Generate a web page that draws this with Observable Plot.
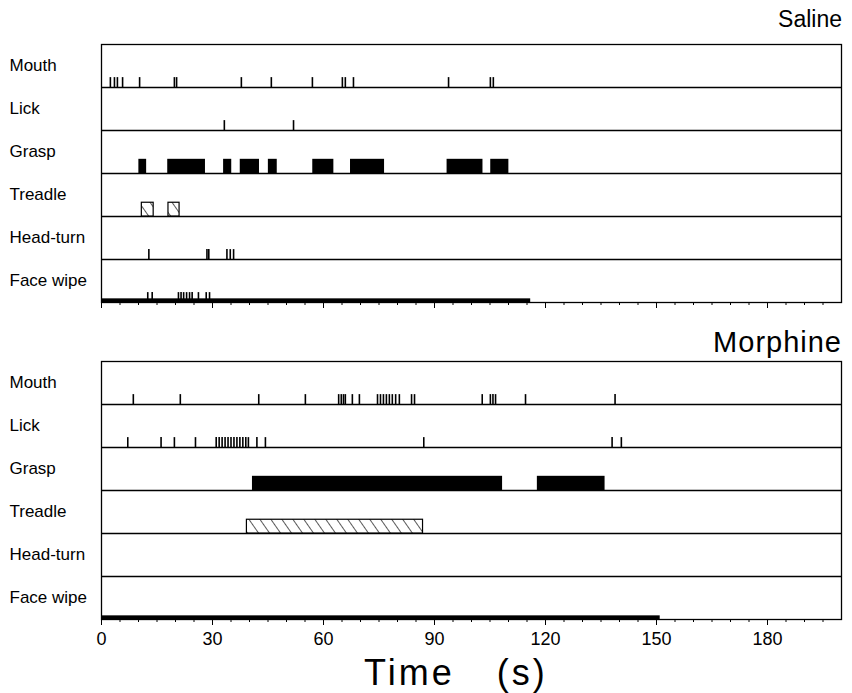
<!DOCTYPE html>
<html>
<head>
<meta charset="utf-8">
<script src="https://cdn.jsdelivr.net/npm/d3@7"></script>
<script src="https://cdn.jsdelivr.net/npm/@observablehq/plot@0.6"></script>
<style>
  body { margin: 0; background: #fff; font-family: "Liberation Sans", Arial, Helvetica, sans-serif; }
  #wrap { position: relative; width: 852px; height: 693px; overflow: hidden; }
  .title { position: absolute; right: 10px; color: #000; }
  .xlabel { position: absolute; left: 364px; font-size: 36px; line-height: 36px; white-space: pre; color: #000; letter-spacing: 3px; word-spacing: 8px; }
</style>
</head>
<body>
<svg width="0" height="0" style="position:absolute">
  <defs>
    <pattern id="hatch" patternUnits="userSpaceOnUse" width="9" height="9" patternTransform="rotate(-35)">
      <rect x="0" y="0" width="9" height="9" fill="white"/>
      <line x1="0" y1="-1" x2="0" y2="10" stroke="black" stroke-width="1.3"/>
    </pattern>
  </defs>
</svg>
<div id="wrap">
  <div class="title" style="top:8px;font-size:23px;line-height:23px">Saline</div>
  <div class="title" style="top:328px;font-size:29px;line-height:29px;letter-spacing:1px">Morphine</div>
  <div class="xlabel" style="top:655px">Time  (s)</div>
</div>
<script>
// ---------- data (seconds) ----------
const rows = ["Mouth", "Lick", "Grasp", "Treadle", "Head-turn", "Face wipe"];
const majorTicks = [0, 30, 60, 90, 120, 150, 180];

// Saline
const salineMouth = [2.4, 3.5, 4.3, 5.7, 10.3, 19.7, 20.3, 37.8, 45.9, 57.0, 65.1, 65.9, 68.1, 93.8, 105.1, 105.9];
const salineLick = [33.2, 51.9];
const salineGraspStart = [10.1, 17.9, 33.0, 37.5, 45.1, 57.1, 67.3, 93.4, 105.2];
const salineGraspEnd   = [12.2, 28.1, 35.2, 42.7, 47.5, 62.8, 76.5, 103.1, 110.1];
const salineTreadleStart = [10.9, 18.1];
const salineTreadleEnd   = [14.1, 21.1];
const salineHeadTurn = [12.8, 28.5, 29.0, 33.9, 34.8, 35.7];
const salineFaceWipe = [12.5, 13.7, 20.8, 21.5, 22.2, 23.0, 23.8, 24.5, 26.2, 28.3, 29.2];
const salineSession = 116;

// Morphine
const morphineMouth = [8.6, 21.3, 42.5, 55.1, 64.1, 64.8, 65.4, 65.9, 67.8, 69.7, 74.6, 75.4, 76.2, 77.0, 77.8, 78.6, 79.5, 80.5, 83.8, 84.6, 102.9, 105.1, 105.8, 106.5, 114.6, 138.8];
const morphineLick = [7.1, 16.1, 19.7, 25.4, 31.0, 31.8, 32.6, 33.4, 34.2, 35.0, 35.8, 36.6, 37.4, 38.2, 39.0, 39.7, 42.0, 44.3, 87.1, 138.0, 140.5];
const morphineGraspStart = [40.8, 117.8];
const morphineGraspEnd   = [108.4, 136.1];
const morphineTreadleStart = [39.3];
const morphineTreadleEnd   = [86.9];
const morphineHeadTurn = [];
const morphineFaceWipe = [];
const morphineSession = 151;

// ---------- build ----------
function panel(cfg, bottom) {
  const events = [
    ...cfg.mouth.map(t => ({row: 0, t})),
    ...cfg.lick.map(t => ({row: 1, t})),
    ...cfg.head.map(t => ({row: 4, t})),
    ...cfg.face.map(t => ({row: 5, t}))
  ];
  const grasp = cfg.gS.map((s, i) => ({row: 2, s, e: cfg.gE[i]}));
  const tread = cfg.tS.map((s, i) => ({row: 3, s, e: cfg.tE[i]}));
  const session = [{s: 0, e: cfg.session}];
  const mt = 8, plotH = 258, mb = bottom ? 50 : 12;
  return Plot.plot({
    width: 852,
    height: mt + plotH + mb,
    marginLeft: 101,
    marginRight: 11,
    marginTop: mt,
    marginBottom: mb,
    style: {fontFamily: "Liberation Sans, Arial, Helvetica, sans-serif", color: "black", background: "transparent"},
    x: {domain: [0, 200]},
    y: {domain: [0, 6], reverse: true, axis: null},
    marks: [
      Plot.ruleY([1, 2, 3, 4, 5], {stroke: "black", strokeWidth: 1.3}),
      Plot.rect(session, {x1: "s", x2: "e", y1: 6, y2: 5.915, fill: "black"}),
      Plot.ruleX(events, {x: "t", y1: d => d.row + 1, y2: d => d.row + 1 - 0.23, stroke: "black", strokeWidth: 1.6}),
      Plot.rect(grasp, {x1: "s", x2: "e", y1: d => d.row + 1, y2: d => d.row + 1 - 0.33, fill: "black"}),
      Plot.rect(tread, {x1: "s", x2: "e", y1: d => d.row + 1, y2: d => d.row + 1 - 0.32, fill: "url(#hatch)", stroke: "black", strokeWidth: 1.2}),
      Plot.frame({stroke: "black", strokeWidth: 1.3}),
      Plot.text(rows, {y: (d, i) => i + 0.5, frameAnchor: "left", dx: -92, textAnchor: "start", text: d => d, fontSize: 17, fill: "black"}),
      Plot.axisX(d3.range(0, 200, 5), {tickSize: 3, tickFormat: () => "", label: null, stroke: "black"}),
      Plot.axisX(majorTicks, {tickSize: 6, tickPadding: 7, fontSize: 18, label: null, stroke: "black", fill: "black",
        tickFormat: bottom ? (d => String(d)) : (() => "")})
    ]
  });
}

const wrap = document.getElementById("wrap");
const top1 = panel({mouth: salineMouth, lick: salineLick, head: salineHeadTurn, face: salineFaceWipe,
  gS: salineGraspStart, gE: salineGraspEnd, tS: salineTreadleStart, tE: salineTreadleEnd, session: salineSession}, false);
top1.style.position = "absolute"; top1.style.top = "36px"; top1.style.left = "0px";
wrap.appendChild(top1);

const bot = panel({mouth: morphineMouth, lick: morphineLick, head: morphineHeadTurn, face: morphineFaceWipe,
  gS: morphineGraspStart, gE: morphineGraspEnd, tS: morphineTreadleStart, tE: morphineTreadleEnd, session: morphineSession}, true);
bot.style.position = "absolute"; bot.style.top = "353px"; bot.style.left = "0px";
wrap.appendChild(bot);
</script>
</body>
</html>
